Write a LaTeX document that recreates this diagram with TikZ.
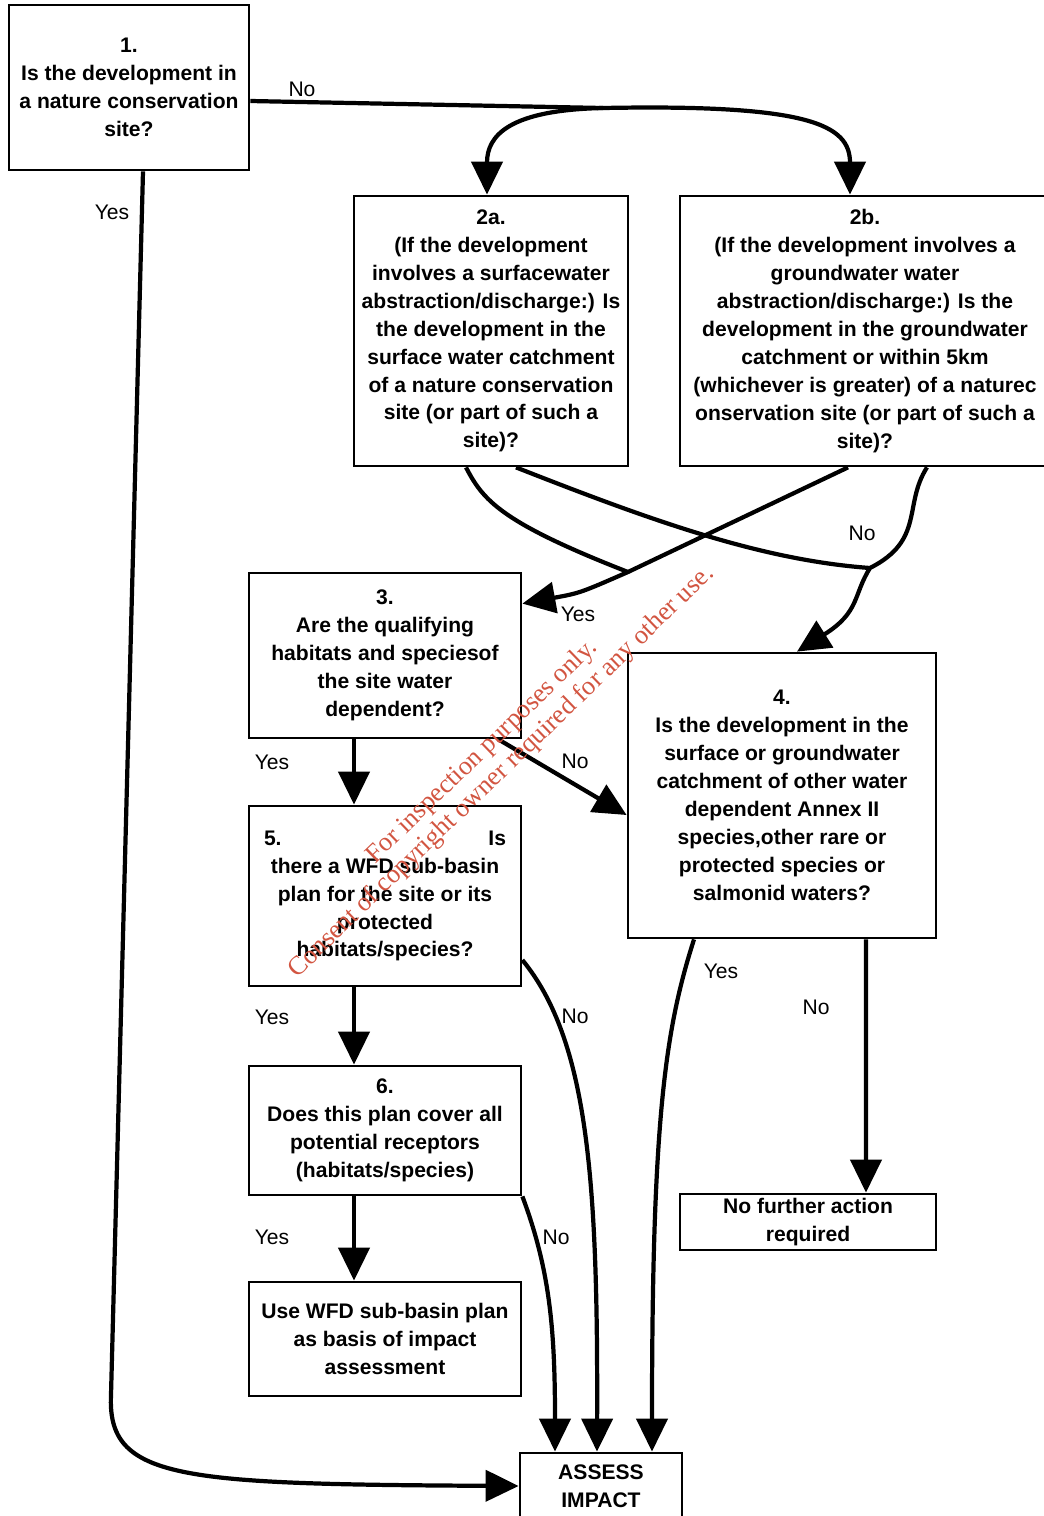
\documentclass[tikz,border=0pt]{standalone}
\usepackage{fontspec}
\setmainfont{Liberation Sans}
\newfontfamily\wmfont{Liberation Serif}
\usepackage{tikz}
\usetikzlibrary{arrows.meta}
\definecolor{wmred}{RGB}{210,85,65}
\tikzstyle{box}=[draw=black, line width=1.6pt, align=center, inner sep=0pt, font=\fontsize{12}{15.9}\selectfont\bfseries]
\tikzstyle{answer}=[font=\fontsize{12}{14}\selectfont]
\tikzstyle{wire}=[draw=black, line width=2.4pt]
\tikzstyle{arrow}=[draw=black, line width=2.4pt, -{Triangle[length=6.6mm, width=6.2mm]}]
\tikzstyle{wmark}=[text=wmred, align=center, rotate=44, font=\wmfont\fontsize{15}{16}\selectfont]

\begin{document}
\begin{tikzpicture}[x=0.02cm, y=-0.02cm]
		   \useasboundingbox (0,0) rectangle (1044,1516);
		   \begin{scope}
			   \node (1) at (129,87.5)[box, minimum width=4.8cm, minimum height=3.3cm] {1.\\Is the development in\\a nature conservation\\site?};
			   \node (2a) at (491,331)[box, minimum width=5.48cm, minimum height=5.4cm] {2a.\\(If the development\\involves a surfacewater\\abstraction/discharge:) Is\\the development in the\\surface water catchment\\of a nature conservation\\site (or part of such a\\site)?};
			   \node (2b) at (865,331)[box, minimum width=7.4cm, minimum height=5.4cm] {2b.\\(If the development involves a\\groundwater water\\abstraction/discharge:) Is the\\development in the groundwater\\catchment or within 5km\\(whichever is greater) of a naturec\\onservation site (or part of such a\\site)?};
			   \node (3) at (385,655.5)[box, minimum width=5.44cm, minimum height=3.3cm] {3.\\Are the qualifying\\habitats and speciesof\\the site water\\dependent?};
			   \node (4) at (782,795.5)[box, minimum width=6.16cm, minimum height=5.7cm] {4.\\Is the development in the\\surface or groundwater\\catchment of other water\\dependent Annex II\\species,other rare or\\protected species or\\salmonid waters?};
			   \node (5) at (385,896)[box, minimum width=5.44cm, minimum height=3.6cm] {\makebox[4.84cm]{5.\hfill Is}\\there a WFD sub-basin\\plan for the site or its\\protected\\habitats/species?};
			   \node (6) at (385,1130.5)[box, minimum width=5.44cm, minimum height=2.58cm] {6.\\Does this plan cover all\\potential receptors\\(habitats/species)};
			   \node (7) at (385,1339)[box, minimum width=5.44cm, minimum height=2.28cm] {Use WFD sub-basin plan\\as basis of impact\\assessment};
			   \node (8) at (808,1222)[box, minimum width=5.12cm, minimum height=1.12cm] {No further action\\required};
			   \node (9) at (601,1486)[box, minimum width=3.24cm, minimum height=1.32cm] {ASSESS\\IMPACT};
		   \end{scope}
		   \begin{scope}
			   \coordinate (j1) at (603,108);
			   \coordinate (j2) at (628,572);
			   \coordinate (j3) at (870,568);
			   \path [wire] ([yshift=-0.27cm]1.east) -- (j1);
			   \path [arrow] (j1) .. controls (510,110) and (487,135) .. ([xshift=-0.08cm]2a.north);
			   \path [arrow] (j1) .. controls (810,104) and (850,125) .. ([xshift=-0.3cm]2b.north);
			   \path [arrow] ([xshift=0.28cm]1.south) -- (111,1395) .. controls (107,1480) and (180,1484) .. (9.west);
			   \path [wire] ([xshift=-0.5cm]2a.south) .. controls (483,500) and (500,522) .. (j2);
			   \path [arrow] ([xshift=-0.34cm]2b.south) -- (j2) .. controls (580,593) .. ([yshift=-0.64cm]3.north east);
			   \path [wire] ([xshift=0.5cm]2a.south) .. controls (650,520) and (760,560) .. (j3);
			   \path [arrow] ([xshift=1.24cm]2b.south) .. controls (903,505) and (925,540) .. (j3) .. controls (853,595) and (860,612) .. ([xshift=0.3cm]4.north);
			   \path [arrow] ([xshift=-0.62cm]3.south) -- ([xshift=-0.62cm]5.north);
			   \path [arrow] ([xshift=-0.48cm]3.south east) -- ([yshift=-0.39cm]4.west);
			   \path [arrow] ([xshift=-0.62cm]5.south) -- ([xshift=-0.62cm]6.north);
			   \path [arrow] ([yshift=-1.28cm]5.east) .. controls (588,1040) and (598,1180) .. ([xshift=-0.08cm]9.north);
			   \path [arrow] ([xshift=-0.62cm]6.south) -- ([xshift=-0.62cm]7.north);
			   \path [arrow] (6.south east) .. controls (550,1270) and (555,1330) .. ([xshift=-0.92cm]9.north);
			   \path [arrow] ([xshift=-1.76cm]4.south) .. controls (665,1030) and (652,1120) .. ([xshift=1.02cm]9.north);
			   \path [arrow] ([xshift=1.68cm]4.south) -- ([xshift=1.16cm]8.north);
		   \end{scope}
		   \begin{scope}
			   \node (n1) at (302,89)[answer] {No};
			   \node (y1) at (112,212)[answer] {Yes};
			   \node (n2) at (862,533)[answer] {No};
			   \node (y2) at (578,614)[answer] {Yes};
			   \node (y3) at (272,762)[answer] {Yes};
			   \node (n3) at (575,761)[answer] {No};
			   \node (y5) at (272,1017)[answer] {Yes};
			   \node (n5) at (575,1016)[answer] {No};
			   \node (y6) at (272,1237)[answer] {Yes};
			   \node (n6) at (556,1237)[answer] {No};
			   \node (y4) at (721,971)[answer] {Yes};
			   \node (n4) at (816,1007)[answer] {No};
			   \node (wm) at (492,762)[wmark] {For inspection purposes only.\\Consent of copyright owner required for any other use.};
		   \end{scope}
	   \end{tikzpicture}
\end{document}
